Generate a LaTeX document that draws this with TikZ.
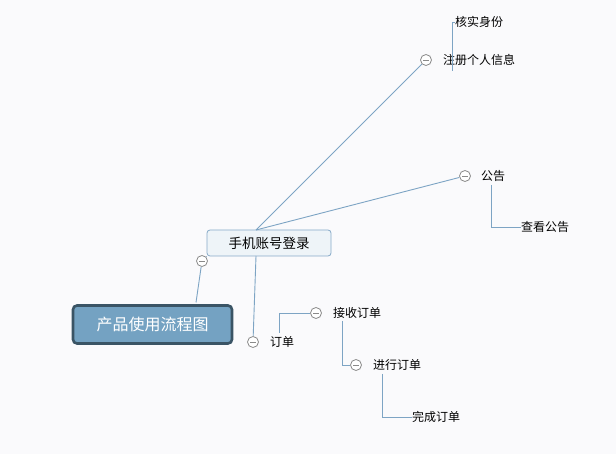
\documentclass[tikz,border=0pt]{standalone}
\usepackage{fontspec}
\newfontfamily\cjk{Noto Sans CJK SC}
\definecolor{bg}{HTML}{FAFAFC}
\definecolor{edge}{HTML}{7DA4C4}
\definecolor{rootfill}{HTML}{74A2C2}
\definecolor{rootdraw}{HTML}{3A5465}
\definecolor{subfill}{HTML}{EEF4F8}
\definecolor{subdraw}{HTML}{86AAC8}
\definecolor{tog}{HTML}{8A8A8A}
\tikzset{
  conn/.style={draw=edge, line width=0.9pt},
  lbl/.style={font=\cjk\fontsize{12}{12}\selectfont, inner sep=0pt, text=black},
  toggle/.style={circle, draw=tog, fill=white, minimum size=11pt, inner sep=0pt, line width=0.8pt,
    path picture={\draw[tog, line width=0.8pt] ([xshift=-3pt]path picture bounding box.center) -- ([xshift=3pt]path picture bounding box.center);}},
  rootbox/.style={rounded corners=4pt, fill=rootfill, draw=rootdraw, line width=2.6pt, minimum width=159pt, minimum height=38pt, font=\cjk\fontsize{16}{16}\selectfont, text=white},
  subbox/.style={rounded corners=3pt, fill=subfill, draw=subdraw, line width=0.8pt, minimum width=124pt, minimum height=26pt, font=\cjk\fontsize{13.5}{14}\selectfont, text=black}
}
\begin{document}
\begin{tikzpicture}[x=1pt, y=-1pt]
\fill[bg] (0,0) rectangle (616,454);
\useasboundingbox (0,0) rectangle (616,454);
% main nodes
\node[rootbox] (root) at (152.5,324.5) {产品使用流程图};
\node[subbox] (login) at (269,243) {手机账号登录};
\node[toggle] (t0) at (202,261) {};
% children
\node[toggle] (t1) at (426,60) {};
\node[lbl] (reg) at (479,60) {注册个人信息};
\node[lbl] (verify) at (479,22) {核实身份};
\node[toggle] (t2) at (465,176) {};
\node[lbl] (notice) at (493,176) {公告};
\node[lbl] (view) at (545,227) {查看公告};
\node[toggle] (t3) at (253,342) {};
\node[lbl] (order) at (282,342) {订单};
\node[toggle] (t4) at (316,313) {};
\node[lbl] (recv) at (357,313) {接收订单};
\node[toggle] (t5) at (356,365) {};
\node[lbl] (proc) at (397,365) {进行订单};
\node[lbl] (done) at (436,417) {完成订单};
% connectors
\draw[conn] (196,302.5) -- (t0);
\draw[conn] (t0) -- (login.south west);
\draw[conn] (256,230) -- (t1);
\draw[conn] (256,230) -- (t2);
\draw[conn] (256,256) -- (t3);
\draw[conn] (452,71) -- (452,22) -- (verify.west);
\draw[conn] (491,185) -- (491,227) -- (view.west);
\draw[conn] (279,333) -- (279,313) -- (t4);
\draw[conn] (342,321) -- (342,365) -- (t5);
\draw[conn] (382,374) -- (382,417) -- (done.west);
\end{tikzpicture}
\end{document}
